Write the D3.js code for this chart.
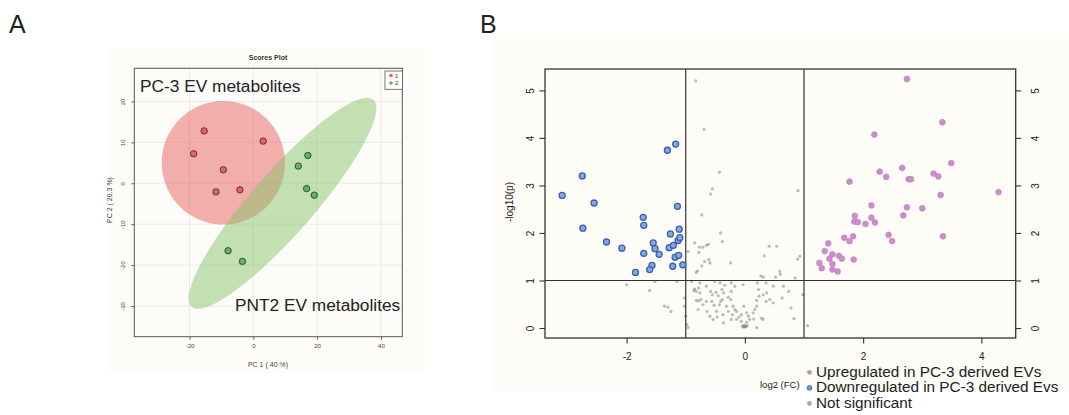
<!DOCTYPE html>
<html>
<head>
<meta charset="utf-8">
<script src="https://cdn.jsdelivr.net/npm/d3@7"></script>
<style>
  body { margin: 0; background: #fff; }
  svg { display: block; font-family: "Liberation Sans", Arial, sans-serif; }
</style>
</head>
<body>
<svg id="fig" width="1069" height="415"></svg>
<script>
// ---- Panel A: PCA scores ----
const pcaGroups = ["1", "2"];
const pcaColors = ["#e8605e", "#5cb860"];
// PC1, PC2 scores per sample
const pc3Scores = [[-15.4, 12.8], [-18.7, 7.2], [3.1, 10.3], [-9.4, 3.3], [-11.7, -2.1], [-4.2, -1.6]];
const pnt2Scores = [[17.1, 6.8], [14.1, 4.2], [16.7, -1.3], [19.1, -2.9], [-7.9, -16.5], [-3.4, -19.1]];
// confidence ellipses: centre + two half-axis vectors (data units)
const pc3Ellipse = { c: [-9.4, 5.0], a: [19.3, 0], b: [0, 15.1] };
const pnt2Ellipse = { c: [9.15, -4.9], a: [28.5, 25.3], b: [7.3, -5.0] };
const pcaXTicks = [-20, 0, 20, 40];
const pcaYTicks = [-30, -20, -10, 0, 10, 20];

// ---- Panel B: volcano plot ----
const volcXTicks = [-2, 0, 2, 4];
const volcYTicks = [0, 1, 2, 3, 4, 5];
const fcCut = [-1, 1];
const pCut = 1;
const legendLabels = ["Upregulated in PC-3 derived EVs", "Downregulated in PC-3 derived Evs", "Not significant"];

// log2(FC), -log10(p)
const upPoints = [
  [2.74, 5.24], [3.34, 4.33], [2.19, 4.07], [3.49, 3.47], [2.66, 3.37], [2.28, 3.29], [2.39, 3.18],
  [2.77, 3.13], [2.81, 3.13], [3.19, 3.25], [3.27, 3.19], [1.77, 3.08], [3.31, 2.80], [4.29, 2.86],
  [2.14, 2.58], [2.74, 2.54], [3.00, 2.52], [2.68, 2.37], [1.86, 2.36], [2.14, 2.32], [1.85, 2.24],
  [1.91, 2.23], [2.04, 2.19], [2.20, 2.22], [2.43, 1.96], [2.49, 1.83], [3.35, 1.93], [1.83, 1.93],
  [1.68, 1.90], [1.77, 1.83], [1.41, 1.78], [1.35, 1.62], [1.48, 1.55], [1.43, 1.46], [1.59, 1.52],
  [1.64, 1.46], [1.84, 1.44], [1.48, 1.35], [1.26, 1.37], [1.30, 1.26], [1.48, 1.23], [1.57, 1.19]
];
const downPoints = [
  [-3.09, 2.79], [-2.75, 3.20], [-2.74, 2.10], [-2.55, 2.63], [-2.34, 1.81], [-2.08, 1.68], [-1.85, 1.17],
  [-1.72, 2.33], [-1.71, 2.16], [-1.71, 1.57], [-1.55, 1.79], [-1.52, 1.67], [-1.57, 1.32], [-1.61, 1.23],
  [-1.45, 1.55], [-1.31, 3.74], [-1.17, 3.87], [-1.14, 2.56], [-1.26, 1.98], [-1.28, 1.69], [-1.21, 1.74],
  [-1.22, 1.30], [-1.18, 1.49], [-1.12, 1.53], [-1.13, 1.84], [-1.10, 1.90], [-1.11, 2.08], [-1.05, 1.33]
];
const nsPoints = [
  [-0.83, 5.20], [-0.69, 4.18], [-0.43, 3.28], [-0.55, 2.93], [-0.58, 2.82], [0.90, 2.89], [-0.73, 2.38], [-0.41, 2.00],
  [-0.85, 1.79], [-0.77, 1.70], [-0.71, 1.70], [-0.65, 1.74], [-0.62, 1.76], [-0.38, 1.82], [-0.96, 1.61], [-0.78, 1.59],
  [-0.68, 1.40], [-0.61, 1.44], [-0.59, 1.37], [-0.73, 1.31], [-0.82, 1.17], [-0.80, 1.20], [-0.24, 1.37], [0.41, 1.72],
  [0.54, 1.72], [0.33, 1.52], [0.89, 1.45], [0.93, 1.51], [0.59, 1.19], [0.52, 1.07], [0.27, 1.10], [0.31, 1.07],
  [0.85, 1.05], [0.60, 1.13],
  [-2.00, 0.91], [-1.61, 0.79], [-1.36, 0.46], [-1.30, 0.44], [-1.25, 0.35], [-1.15, 0.98], [-1.52, 0.98],
  [0.98, 0.70], [0.78, 0.42], [0.83, 0.20], [1.06, 0.05], [0.63, 0.63],
  [-0.90, 0.98], [-0.76, 0.95], [-0.85, 0.82], [-0.78, 0.84], [-0.76, 0.74], [-0.82, 0.77], [-0.86, 0.79], [-0.51, 0.98],
  [-0.65, 0.88], [-0.42, 0.95], [-0.34, 0.90], [-0.23, 0.95], [-0.17, 0.88], [-0.03, 0.91], [0.21, 0.95], [0.36, 0.95],
  [0.48, 0.88], [0.65, 0.88], [0.74, 0.77], [-0.58, 0.77], [-0.55, 0.70], [-0.49, 0.75], [-0.45, 0.68], [-0.39, 0.81],
  [-0.36, 0.74], [-0.28, 0.65], [-0.43, 0.49], [-0.56, 0.56], [-0.65, 0.56], [-0.78, 0.57], [-0.74, 0.60], [-0.82, 0.58],
  [-0.79, 0.39], [-0.64, 0.35], [-0.59, 0.25], [-0.54, 0.18], [-0.48, 0.35], [-0.37, 0.28], [-0.31, 0.46], [-0.24, 0.60],
  [-0.20, 0.46], [-0.17, 0.39], [-0.14, 0.35], [-0.21, 0.28], [-0.28, 0.35], [-0.47, 0.23], [-0.36, 0.11], [-0.23, 0.18],
  [-0.14, 0.18], [-0.10, 0.23], [-0.06, 0.14], [-0.03, 0.02], [0.01, 0.04], [0.03, 0.12], [0.08, 0.18], [0.15, 0.19],
  [0.17, 0.39], [0.20, 0.46], [0.20, 0.58], [0.24, 0.67], [0.23, 0.81], [0.31, 0.70], [0.37, 0.74], [0.42, 0.60],
  [0.48, 0.53], [0.36, 0.56], [0.28, 0.21], [0.31, 0.18], [0.14, 0.32], [0.06, 0.25], [-0.06, 0.28], [-0.02, 0.46],
  [0.20, 0.01], [-1.02, 0.63], [-1.02, 0.46], [-1.00, 0.25], [-0.98, 0.07], [-0.96, 0.01], [-0.52, 0.48], [-0.38, 0.60],
  [-0.71, 0.49], [0.03, 0.32], [-0.23, 0.77], [-0.41, 0.56],
  [-0.02, 0.03], [0.00, 0.02], [0.02, 0.03], [-0.04, 0.04], [0.04, 0.05], [-0.01, 0.06]
];

const svg = d3.select("#fig");
const ink = "#333";
const plainNum = d => String(d);   // ascii hyphen minus like the original

// faint page backgrounds of the two pasted panels
svg.append("rect").attr("x", 106).attr("y", 48).attr("width", 319).attr("height", 322).attr("fill", "#fdfcf8");
svg.append("rect").attr("x", 493).attr("y", 33).attr("width", 576).attr("height", 357).attr("fill", "#fdfcf7");

// panel letters
svg.append("text").attr("x", 9).attr("y", 33).attr("font-size", 25).attr("fill", "#222").text("A");
svg.append("text").attr("x", 480).attr("y", 33).attr("font-size", 25).attr("fill", "#222").text("B");

// ================= Panel A =================
const xA = d3.scaleLinear().domain([-37.3, 46.7]).range([134.3, 402.3]);
const yA = d3.scaleLinear().domain([-37.5, 28.1]).range([336.7, 68.3]);
const gA = svg.append("g");

// grid
gA.selectAll(".vgrid").data(pcaXTicks).join("line")
    .attr("x1", d => xA(d)).attr("x2", d => xA(d))
    .attr("y1", yA.range()[1]).attr("y2", yA.range()[0])
    .attr("stroke", "#e6e6e6").attr("stroke-width", 0.8);
gA.selectAll(".hgrid").data(pcaYTicks).join("line")
    .attr("y1", d => yA(d)).attr("y2", d => yA(d))
    .attr("x1", xA.range()[0]).attr("x2", xA.range()[1])
    .attr("stroke", "#e6e6e6").attr("stroke-width", 0.8);

// ellipse outline from centre and half-axes
function ellipsePath(e) {
    const pts = d3.range(0, 2 * Math.PI, Math.PI / 90).map(t => [
        xA(e.c[0] + Math.cos(t) * e.a[0] + Math.sin(t) * e.b[0]),
        yA(e.c[1] + Math.cos(t) * e.a[1] + Math.sin(t) * e.b[1])
    ]);
    return d3.line()(pts) + "Z";
}
gA.append("path").attr("d", ellipsePath(pc3Ellipse)).attr("fill", pcaColors[0]).attr("fill-opacity", 0.5);
gA.append("path").attr("d", ellipsePath(pnt2Ellipse)).attr("fill", "#88c46c").attr("fill-opacity", 0.5);

// sample points
[pc3Scores, pnt2Scores].forEach((set, i) => {
    gA.selectAll(".pt" + i).data(set).join("circle")
        .attr("cx", d => xA(d[0])).attr("cy", d => yA(d[1]))
        .attr("r", 3.2)
        .attr("fill", pcaColors[i])
        .attr("stroke", "#2a2a2a").attr("stroke-width", 0.8);
});

// axes
const axA = gA.append("g").attr("transform", `translate(0,${yA.range()[0]})`)
    .call(d3.axisBottom(xA).tickValues(pcaXTicks).tickSize(3).tickSizeOuter(0).tickFormat(plainNum));
axA.select(".domain").remove();
axA.selectAll("line").attr("stroke", "#666");
axA.selectAll("text").attr("font-size", 6).attr("fill", "#444").attr("dy", "0.95em");

const ayA = gA.append("g").attr("transform", `translate(${xA.range()[0]},0)`)
    .call(d3.axisLeft(yA).tickValues(pcaYTicks).tickSize(3).tickSizeOuter(0).tickFormat(plainNum));
ayA.select(".domain").remove();
ayA.selectAll("line").attr("stroke", "#666");
ayA.selectAll("text").attr("font-size", 6).attr("fill", "#444")
    .attr("transform", "rotate(-90)").attr("x", 0).attr("y", -9).attr("dy", 0)
    .style("text-anchor", "middle");

// frame
gA.append("rect")
    .attr("x", xA.range()[0]).attr("y", yA.range()[1])
    .attr("width", xA.range()[1] - xA.range()[0]).attr("height", yA.range()[0] - yA.range()[1])
    .attr("fill", "none").attr("stroke", "#555").attr("stroke-width", 1);

// titles and labels
gA.append("text").attr("x", 268).attr("y", 60).attr("text-anchor", "middle")
    .attr("font-size", 7).attr("font-weight", "bold").attr("fill", "#333").text("Scores Plot");
gA.append("text").attr("x", 268).attr("y", 367).attr("text-anchor", "middle")
    .attr("font-size", 7).attr("fill", "#444").text("PC 1 ( 40 %)");
gA.append("text").attr("transform", "translate(112,200) rotate(-90)").attr("text-anchor", "middle")
    .attr("font-size", 7).attr("fill", "#444").text("PC 2 ( 20.3 %)");
gA.append("text").attr("x", 140).attr("y", 91.7)
    .attr("font-size", 17.3).attr("fill", "#222").text("PC-3 EV metabolites");
gA.append("text").attr("x", 235).attr("y", 310.7)
    .attr("font-size", 17.3).attr("fill", "#222").text("PNT2 EV metabolites");

// small legend
const legA = gA.append("g").attr("transform", "translate(385,71)");
legA.append("rect").attr("width", 17.5).attr("height", 18.3)
    .attr("fill", "#fff").attr("stroke", "#555").attr("stroke-width", 0.8);
pcaGroups.forEach((g, i) => {
    legA.append("circle").attr("cx", 6).attr("cy", 4.5 + i * 7.5).attr("r", 1.8).attr("fill", pcaColors[i]);
    legA.append("text").attr("x", 10).attr("y", 6.6 + i * 7.5).attr("font-size", 6).attr("fill", "#333").text(g);
});

// ================= Panel B =================
const xB = d3.scaleLinear().domain([-3.38, 4.58]).range([545, 1015.7]);
const yB = d3.scaleLinear().domain([-0.21, 5.45]).range([338, 69]);
const gB = svg.append("g");

// not significant
gB.selectAll(".ns").data(nsPoints).join("circle")
    .attr("cx", d => xB(d[0])).attr("cy", d => yB(d[1]))
    .attr("r", 1.6).attr("fill", "#858585").attr("fill-opacity", 0.55);

// threshold lines
gB.selectAll(".vcut").data(fcCut).join("line")
    .attr("x1", d => xB(d)).attr("x2", d => xB(d))
    .attr("y1", yB.range()[1]).attr("y2", yB.range()[0])
    .attr("stroke", ink).attr("stroke-width", 1.2);
gB.append("line")
    .attr("x1", xB.range()[0]).attr("x2", xB.range()[1])
    .attr("y1", yB(pCut)).attr("y2", yB(pCut))
    .attr("stroke", ink).attr("stroke-width", 1.2);

// down and up regulated
gB.selectAll(".down").data(downPoints).join("circle")
    .attr("cx", d => xB(d[0])).attr("cy", d => yB(d[1]))
    .attr("r", 3).attr("fill", "#8aa6de").attr("stroke", "#3561b2").attr("stroke-width", 1.3);
gB.selectAll(".up").data(upPoints).join("circle")
    .attr("cx", d => xB(d[0])).attr("cy", d => yB(d[1]))
    .attr("r", 2.9).attr("fill", "#cc8dcb").attr("stroke", "#bf7bbe").attr("stroke-width", 0.6);

// frame
gB.append("rect")
    .attr("x", xB.range()[0]).attr("y", yB.range()[1])
    .attr("width", xB.range()[1] - xB.range()[0]).attr("height", yB.range()[0] - yB.range()[1])
    .attr("fill", "none").attr("stroke", ink).attr("stroke-width", 1.3);

// axes
function styleAxis(sel) {
    sel.select(".domain").remove();
    sel.selectAll("line").attr("stroke", ink).attr("stroke-width", 1.1);
    sel.selectAll("text").attr("font-size", 10).attr("fill", "#222");
}
gB.append("g").attr("transform", `translate(0,${yB.range()[0]})`)
    .call(d3.axisBottom(xB).tickValues(volcXTicks).tickSize(5.5).tickFormat(plainNum))
    .call(styleAxis)
    .selectAll("text").attr("dy", "1.3em");
gB.append("g").attr("transform", `translate(${xB.range()[0]},0)`)
    .call(d3.axisLeft(yB).tickValues(volcYTicks).tickSize(5.5).tickFormat(plainNum))
    .call(styleAxis)
    .selectAll("text")
    .attr("transform", "rotate(-90)").attr("x", 0).attr("y", -11.4).attr("dy", 0)
    .style("text-anchor", "middle");
gB.append("g").attr("transform", `translate(${xB.range()[1]},0)`)
    .call(d3.axisRight(yB).tickValues(volcYTicks).tickSize(5.5).tickFormat(plainNum))
    .call(styleAxis)
    .selectAll("text")
    .attr("transform", "rotate(-90)").attr("x", 0).attr("y", 22.9).attr("dy", 0)
    .style("text-anchor", "middle");

gB.append("text").attr("transform", "translate(513,202) rotate(-90)").attr("text-anchor", "middle")
    .attr("font-size", 10).attr("fill", "#222").text("-log10(p)");
gB.append("text").attr("x", 760).attr("y", 388)
    .attr("font-size", 9.5).attr("fill", "#222").text("log2 (FC)");

// legend
const legendStyle = [
    { fill: "#cc8dcb", stroke: "none" },
    { fill: "#6f90d4", stroke: "#3561b2" },
    { fill: "#aaaaaa", stroke: "none" }
];
legendLabels.forEach((t, i) => {
    const y = 376.5 + i * 15.6;
    gB.append("circle").attr("cx", 809.5).attr("cy", y - 4.2).attr("r", 2.4)
        .attr("fill", legendStyle[i].fill).attr("stroke", legendStyle[i].stroke).attr("stroke-width", 0.8);
    gB.append("text").attr("x", 816).attr("y", y)
        .attr("font-size", 15.3).attr("fill", "#222").text(t);
});
</script>
</body>
</html>
